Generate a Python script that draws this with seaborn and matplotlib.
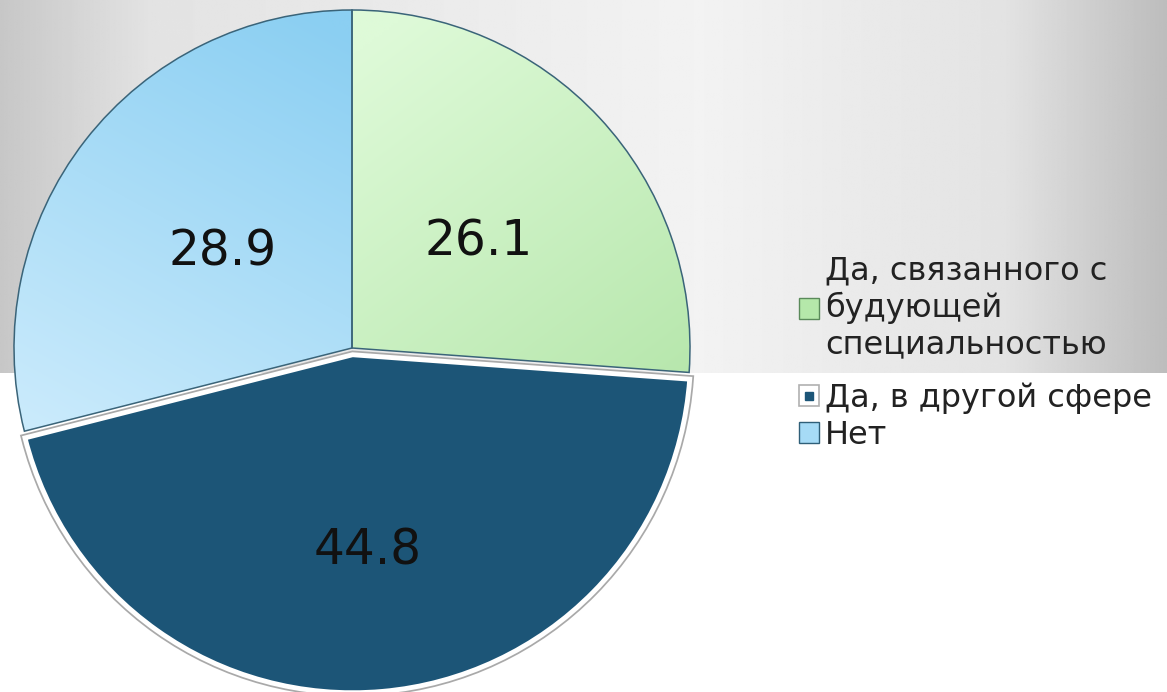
import numpy as np
import matplotlib
matplotlib.use("Agg")
import matplotlib.pyplot as plt
import matplotlib.colors as mcolors
import seaborn as sns
from matplotlib.patches import Patch, Wedge
from matplotlib.lines import Line2D
from matplotlib.legend_handler import HandlerTuple

# data
labels = ["Да, связанного с\nбудующей\nспециальностью", "Да, в другой сфере", "Нет"]
values = [26.1, 44.8, 28.9]
colors = ["#cdf4c4", "#1c5577", "#b9e1f8"]

sns.set_theme(style="white")
plt.rcParams["font.family"] = ["DejaVu Sans"]

W, H = 1167, 692
fig = plt.figure(figsize=(W / 100, H / 100), dpi=100)

# grey gradient band behind the top part of the chart
bg = fig.add_axes([0, 0, 1, 1])
xs = np.linspace(0, 1, 800)
prof = np.interp(xs, [0, 0.13, 0.6, 0.86, 1.0], [0.78, 0.89, 0.95, 0.89, 0.74])
bg.imshow(np.tile(prof, (10, 1)), cmap="gray", vmin=0, vmax=1,
          extent=[0, W, 373, 0], aspect="auto")
bg.set_xlim(0, W)
bg.set_ylim(H, 0)
bg.axis("off")

# pie
cx, cy, r = 352, 348, 338
ax = fig.add_axes([(cx - r) / W, (H - cy - r) / H, 2 * r / W, 2 * r / H])
wedges, texts = ax.pie(values, colors=colors, startangle=90, counterclock=False,
                       explode=[0, 0.02, 0],
                       labels=[f"{v:.1f}" for v in values], labeldistance=0.52,
                       wedgeprops=dict(edgecolor="#3a6479", linewidth=1.1),
                       textprops=dict(fontsize=35, color="#111111"))

label_shift = [(-0.005, -0.04), (0.0, -0.06), (0.027, -0.033)]
for t, (dx, dy) in zip(texts, label_shift):
    x, y = t.get_position()
    t.set_position((x + dx, y + dy))
    t.set_ha("center")
    t.set_va("center")
    t.set_zorder(5)


def shade(wedge, c_from, c_to, p0, p1):
    # linear colour ramp from point p0 to p1, clipped to the wedge
    g = np.linspace(-1.05, 1.05, 300)
    X, Y = np.meshgrid(g, g[::-1])
    d = np.array(p1) - np.array(p0)
    t = ((X - p0[0]) * d[0] + (Y - p0[1]) * d[1]) / (d @ d)
    t = np.clip(t, 0, 1)[..., None]
    a = np.array(mcolors.to_rgb(c_from))
    b = np.array(mcolors.to_rgb(c_to))
    img = a * (1 - t) + b * t
    im = ax.imshow(img, extent=[-1.05, 1.05, -1.05, 1.05], zorder=1, interpolation="bilinear")
    im.set_clip_path(wedge)
    wedge.set_facecolor("none")
    wedge.set_zorder(2)


shade(wedges[0], "#defad8", "#b3e5a8", (0.05, 0.9), (0.95, -0.3))
shade(wedges[2], "#cbebfc", "#8bcff2", (-0.75, -0.35), (-0.05, 0.95))
ax.set_xlim(-1, 1)
ax.set_ylim(-1, 1)

for w in wedges:
    w.set_clip_on(False)

# the exploded slice gets a white rim with a faint grey outline
dark = wedges[1]
dark.set_edgecolor("white")
dark.set_linewidth(3.5)
dark.set_zorder(3)
halo = Wedge(dark.center, dark.r, dark.theta1, dark.theta2, facecolor="none",
             edgecolor="#a9a9a9", linewidth=6, zorder=2.9, clip_on=False)
ax.add_patch(halo)

handles = [Patch(facecolor="#b5e8aa", edgecolor="#5a8a5a", linewidth=1),
           (Patch(facecolor="white", edgecolor="#b0b0b0", linewidth=1.2),
            Line2D([], [], marker="s", markersize=6, color=colors[1], linestyle="")),
           Patch(facecolor="#a6dbf6", edgecolor="#2f5f78", linewidth=1)]
leg_kw = dict(loc="upper left", frameon=False, fontsize=23, handlelength=0.62,
              handleheight=0.62, handletextpad=0.2, labelspacing=0.2, borderpad=0,
              borderaxespad=0, labelcolor="#222222",
              handler_map={tuple: HandlerTuple(ndivide=1, pad=0)})
leg1 = fig.legend(handles[:1], labels[:1], bbox_to_anchor=(799 / W, 1 - 255 / H), **leg_kw)
for t in leg1.get_texts():
    t.set_linespacing(1.22)
leg2 = fig.legend(handles[1:], labels[1:], bbox_to_anchor=(799 / W, 1 - 382 / H), **leg_kw)

fig.savefig("out.png", dpi=100)
